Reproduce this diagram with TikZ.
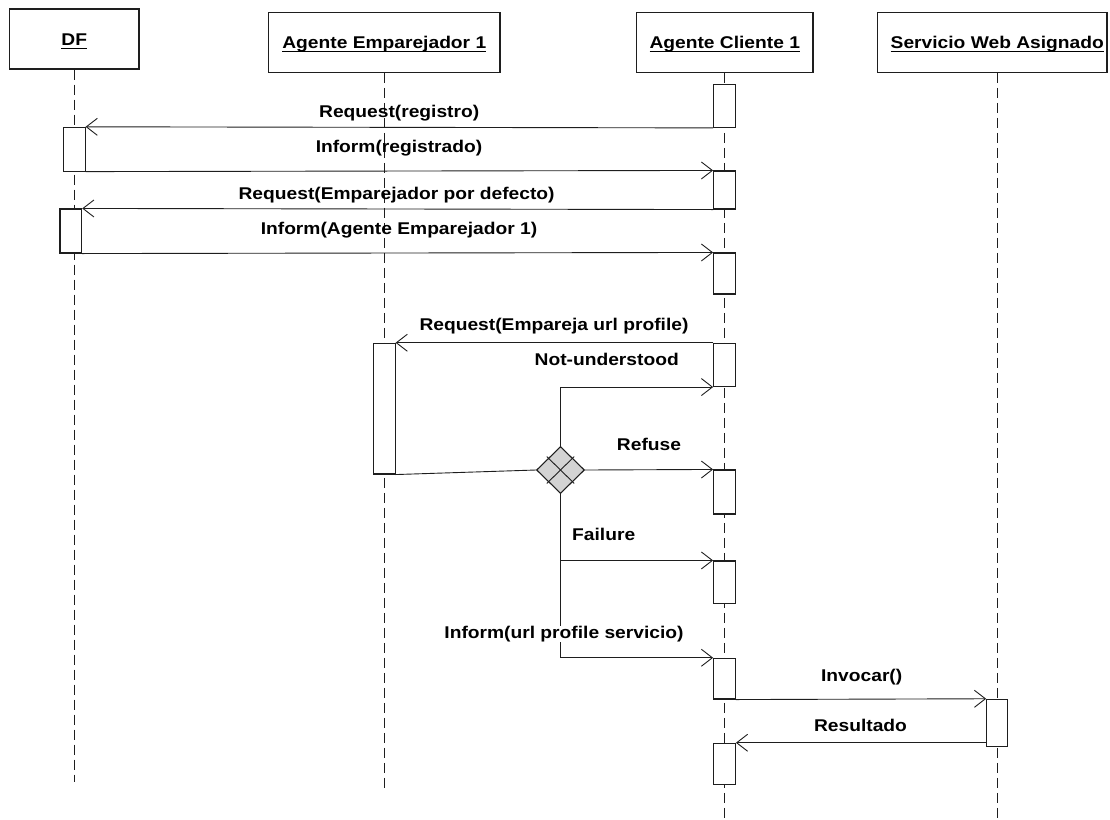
\documentclass[tikz,border=0pt]{standalone}
\usepackage{fontspec}
\setmainfont{Liberation Sans}[FakeStretch=1.13]
\usetikzlibrary{arrows.meta,shapes.geometric,calc}
\definecolor{ink}{RGB}{30,30,30}
\definecolor{forkfill}{RGB}{211,211,211}
% underlined object name for the lifeline heads
\newcommand{\objname}[1]{\setbox0\hbox{#1}\rlap{\rule[-3.6pt]{\wd0}{1.3pt}}\box0}
\begin{document}
\begin{tikzpicture}[x=1pt,y=-1pt,
  every node/.style={font=\fontsize{17pt}{20pt}\selectfont\bfseries},
  head/.style={draw=ink, line width=1.1pt, fill=white, minimum height=60pt,
    inner sep=0pt, text height=12.4pt, text depth=0pt},
  life/.style={draw=ink, line width=0.9pt, dash pattern=on 10pt off 5pt},
  act/.style={draw=ink, line width=1.1pt, fill=white, minimum width=21.7pt, inner sep=0pt},
  msg/.style={draw=ink, line width=0.9pt, -{Straight Barb[length=11pt,width=17pt]}},
  link/.style={draw=ink, line width=0.9pt},
  lbl/.style={anchor=base, inner sep=0pt},
  fork/.style={diamond, draw=ink, line width=1.1pt, fill=forkfill,
    minimum width=48pt, minimum height=47pt, inner sep=0pt}]
\useasboundingbox (0,0) rectangle (1110,819);

% lifeline heads
\node[head, minimum width=129.4pt] (hd) at (74.3,39) {\objname{DF}};
\node[head, minimum width=231.4pt] (he) at (384.3,42.3) {\objname{Agente Emparejador 1}};
\node[head, minimum width=176.5pt] (hc) at (724.75,42.3) {\objname{Agente Cliente 1}};
\node[head, minimum width=229.5pt] (hs) at (992.25,42.3) {\hspace*{10pt}\objname{Servicio Web Asignado}};

% lifelines
\coordinate (hdend) at (74.3,782);
\coordinate (heend) at (384.3,788);
\coordinate (hcend) at (724.75,819);
\coordinate (hsend) at (997,819);
\draw[life] (hd.south) -- (hdend);
\draw[life] (he.south) -- (heend);
\draw[life] (hc.south) -- (hcend);
\draw[life] (hsend |- hs.south) -- (hsend);

% activations
\node[act, minimum height=43.3pt] (c1) at (724.5,105.7) {};
\node[act, minimum height=43.7pt] (d1) at (74.2,149.2) {};
\node[act, minimum height=38pt] (c2) at (724.5,190) {};
\node[act, minimum height=44pt] (d2) at (70.8,231) {};
\node[act, minimum height=41pt] (c3) at (724.5,273.5) {};
\node[act, minimum height=43.2pt] (c4) at (724.5,364.9) {};
\node[act, minimum height=130.7pt] (e1) at (384.2,408.65) {};
\node[act, minimum height=44pt] (c5) at (724.5,492) {};
\node[act, minimum height=42.3pt] (c6) at (724.5,582.15) {};
\node[act, minimum height=40.7pt] (c7) at (724.5,678.65) {};
\node[act, minimum width=21pt, minimum height=47.4pt] (s1) at (997.2,723) {};
\node[act, minimum height=41pt] (c8) at (724.5,763.8) {};

% decision point
\node[fork] (dm) at (560.5,470) {};
\coordinate (qa) at ($(dm.north)!0.5!(dm.west)$);
\coordinate (qb) at ($(dm.north)!0.5!(dm.east)$);
\coordinate (qc) at ($(dm.south)!0.5!(dm.east)$);
\coordinate (qd) at ($(dm.south)!0.5!(dm.west)$);
\draw[link] ($(qa)!-2pt!(qc)$) -- ($(qc)!-2pt!(qa)$);
\draw[link] ($(qb)!-2pt!(qd)$) -- ($(qd)!-2pt!(qb)$);

% messages
\draw[msg] (c1.south west) -- (d1.north east);
\draw[msg] (d1.south east) -- (c2.north west);
\draw[msg] (c2.south west) -- (d2.north east);
\draw[msg] (d2.south east) -- (c3.north west);
\draw[msg] (c4.north west) -- (e1.north east);
\draw[link] (e1.south east) -- (dm.west);
\draw[msg] (dm.north) |- (c4.south west);
\draw[msg] (dm.east) -- (c5.north west);
\draw[msg] (dm.south) |- (c6.north west);
\draw[msg] (dm.south) |- (c7.north west);
\draw[msg] (c7.south east) -- (s1.north west);
\draw[msg] (c8.north east -| s1.west) -- (c8.north east);

% message labels
\node[lbl] (t1) at (399.2,117) {Request(registro)};
\node[lbl] (t2) at (399,152) {Inform(registrado)};
\node[lbl] (t3) at (396.6,199) {Request(Emparejador por defecto)};
\node[lbl] (t4) at (399,234) {Inform(Agente Emparejador 1)};
\node[lbl] (t5) at (554,330) {Request(Empareja url profile)};
\node[lbl] (t6) at (606.7,365) {Not-understood};
\node[lbl] (t7) at (649,450) {Refuse};
\node[lbl] (t8) at (603.7,540.7) {Failure};
\node[lbl, fill=white] (t9) at (564,638.3) {Inform(url profile servicio)};
\node[lbl] (t10) at (861.7,681) {Invocar()};
\node[lbl] (t11) at (860.5,731) {Resultado};
\end{tikzpicture}
\end{document}
